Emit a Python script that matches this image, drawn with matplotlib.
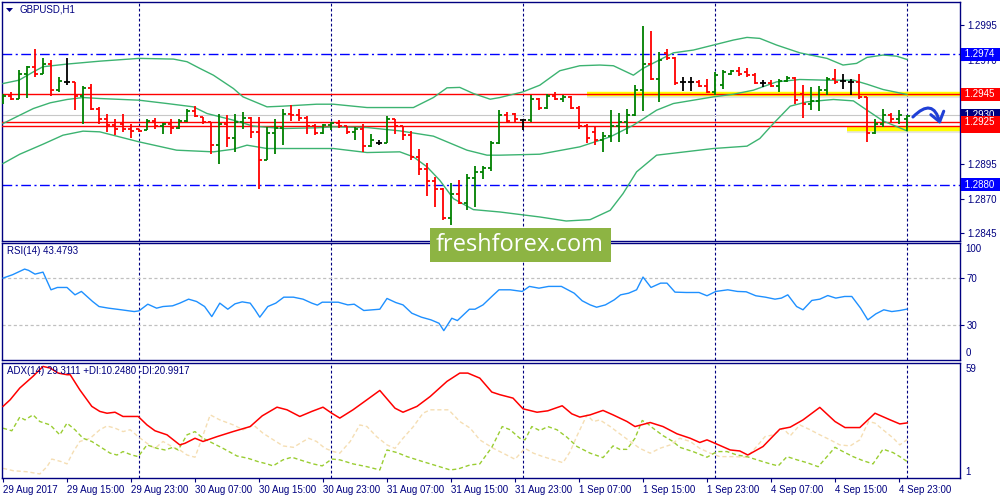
import matplotlib
matplotlib.use('Agg')
import matplotlib.pyplot as plt
from matplotlib.patches import Rectangle, FancyArrowPatch, Polygon
from matplotlib.transforms import blended_transform_factory

plt.rcParams['font.family'] = ['Liberation Sans', 'DejaVu Sans']

W, H = 1000, 500
NAVY = '#000080'

# GBPUSD H1 bars, prices given in pips above 1.2800
BASE = 1.28
opens = [140, 144, 142, 160, 165, 159.7, 167, 148, 154, 154,
         144, 150, 134.4, 127, 123, 124, 120, 120, 119.5, 126,
         122, 124, 121, 126, 133, 128.5, 125, 108.5, 124, 114,
         125, 128, 118, 98, 117, 121, 131, 130, 128, 122,
         117, 123, 124.5, 122, 118, 120, 108, 110, 110.2, 127,
         122, 116, 100, 91, 83, 77, 56, 73, 67, 85,
         89, 92, 110, 130, 131, 126.5, 126.5, 142, 135, 144,
         142, 143.5, 135, 122, 118, 112, 115, 122, 125, 130,
         148, 167, 156.5, 175, 171, 154, 154, 154, 151, 147,
         152, 160, 162, 161, 159, 153, 153, 151, 155, 157,
         145, 138, 140, 148, 156, 155, 154, 154, 143, 117,
         124, 130, 127, 127]
highs = [145, 146.5, 162.5, 165.4, 177.4, 171, 169.8, 157.3, 171, 154.1,
         151, 152.2, 136.1, 131.3, 127.7, 131.3, 123.6, 120.5, 127.5, 128.4,
         124.6, 127, 127.5, 134.2, 136.8, 128.9, 125.3, 131.3, 130.1, 131.3,
         132.5, 128.9, 128.9, 121.7, 127.7, 134.9, 137.3, 134.4, 129.6, 123.6,
         124.1, 125.3, 126.5, 122.2, 121.7, 124.1, 116.4, 112.1, 129.4, 127.2,
         122.5, 118.8, 105.4, 95.7, 85.6, 78, 81.3, 83.2, 87.6, 93.3,
         93.3, 111.4, 133.7, 132.5, 132, 127.7, 144.5, 142.5, 145.7, 146.5,
         144.5, 143.8, 136.6, 124.1, 121.7, 118.1, 133.7, 131.8, 134.9, 151.7,
         194.3, 190.9, 175.8, 177.4, 172.2, 157.3, 157.7, 155.3, 156.1, 161.3,
         162.5, 162.5, 165, 163.8, 160.6, 155.3, 155.3, 156.5, 158.2, 157.3,
         151.7, 150.1, 151, 157.7, 163.3, 160.1, 156.5, 159.7, 143.5, 127.7,
         134.2, 131.8, 133.7, 130.1]
lows = [138.5, 140.9, 142.1, 142.6, 157.3, 159.7, 144.1, 146.5, 151.7, 133.7,
        124.1, 133.7, 123.6, 118.1, 115.7, 118.1, 114, 118.1, 119.3, 120.5,
        116.9, 116.9, 120.5, 125.3, 128.9, 123.6, 102.5, 95.3, 107.3, 103.7,
        120.5, 114, 77.2, 97.7, 102.5, 108.5, 126, 126, 116.9, 115.7,
        116.4, 119.3, 121, 116.9, 112.1, 103.7, 107.3, 108.5, 110.2, 116.9,
        112.1, 97.7, 86.9, 71.7, 64, 54.4, 51.3, 65.9, 62.1, 64,
        84.4, 90, 109.5, 124.6, 125.3, 119.3, 125.3, 133.7, 134.8, 140.9,
        139.7, 134.9, 120.5, 110.4, 108.5, 103.7, 110.9, 110.9, 116.9, 129.5,
        133, 155.3, 139.7, 169.8, 151.7, 147.7, 147.7, 150.5, 146.2, 144.5,
        148.6, 158.9, 158.2, 157.7, 152.9, 150.5, 150.1, 146.9, 154.1, 138,
        128.4, 133.7, 133, 144.5, 152.9, 149.3, 144.5, 141.4, 110.9, 116.5,
        121.7, 124.6, 124.1, 118.8]
closes = [144, 142, 160, 165, 159.7, 167, 148, 155, 154, 144,
          150, 134.4, 127, 123, 120.5, 120, 118.5, 118.5, 126, 122,
          124, 121, 126, 133, 129.6, 125, 108.5, 124, 114, 125,
          128, 118, 98, 117, 121, 131, 130, 128, 122, 117,
          123, 124.5, 122, 118, 120, 108, 112, 110, 127, 122,
          116, 100, 91, 83, 77, 56, 73, 67, 85, 89,
          92, 110, 130, 126, 127, 126.5, 142, 135, 144, 142,
          143.5, 135, 122, 114, 112, 115, 122, 125, 130, 148,
          167, 156.5, 170, 171, 153, 154, 154, 151, 147, 159,
          161, 162, 160, 159, 153, 153, 151, 155, 157, 141,
          138, 140, 148, 156, 154, 155, 154, 143, 117, 124,
          130, 127, 130, 129.8]

# Bollinger bands (bar index, pips above 1.2800)
bb_up_x = [0, 2.0, 3.8, 5.0, 8.0, 12.1, 17.0, 21.3, 23.0, 24.6, 26.3, 28.8, 30.0, 33.0, 35.0, 39.2,
           41.3, 45.5, 51.3, 53.8, 55.5, 57.1, 58.8, 60.9, 62.1, 65.0, 67.1, 69.6, 72.1, 74.6, 76.3,
           78.8, 80.0, 83.8, 86.3, 88.8, 91.3, 93.0, 94.6, 96.7, 99.6, 103.0, 105.0, 106.7, 108.0,
           110.0, 111.7, 113.0]
bb_up = [152.9, 155.3, 161.3, 165.0, 166.9, 169.0, 171.0, 170.5, 168.6, 163.8, 158.9, 149.3, 143.3,
         136.1, 136.6, 138.0, 138.0, 135.6, 135.6, 142.8, 149.8, 150.1, 145.7, 141.6, 142.8, 146.9,
         151.7, 162.1, 165.7, 166.2, 165.7, 158.9, 163.8, 175.0, 177.0, 180.6, 184.2, 186.1, 185.4,
         180.6, 175.0, 171.0, 166.2, 167.4, 171.7, 173.4, 172.6, 170.2]
bb_mid_x = [0, 2.1, 3.8, 5.9, 8.0, 10.0, 12.1, 17.0, 20.5, 23.8, 25.5, 28.8, 31.3, 35.0, 39.2, 41.3,
            45.5, 49.6, 53.8, 58.0, 60.5, 62.1, 67.1, 72.1, 75.9, 78.8, 81.7, 83.8, 88.8, 91.3, 93.8,
            96.7, 99.6, 103.0, 106.3, 108.0, 110.0, 113.0]
bb_mid = [124.1, 130.1, 134.9, 139.0, 141.4, 142.8, 142.1, 140.9, 138.5, 136.1, 131.3, 126.5, 122.2,
          120.5, 121.0, 121.7, 121.2, 118.8, 115.0, 104.9, 101.3, 101.3, 102.0, 107.3, 114.5, 122.9,
          133.7, 138.5, 143.3, 145.2, 148.1, 154.1, 155.8, 155.3, 155.3, 152.4, 148.6, 145.0]
bb_low_x = [0, 2.1, 5.0, 7.5, 10.0, 12.1, 17.0, 21.7, 26.3, 28.8, 30.5, 33.0, 37.1, 41.3, 45.5, 49.6,
            51.3, 53.0, 54.6, 56.3, 58.8, 62.1, 67.1, 70.4, 73.4, 75.9, 77.5, 79.2, 81.7, 88.8, 93.0,
            94.6, 96.3, 98.4, 100.5, 103.8, 106.3, 108.0, 110.0, 113.0]
bb_low = [95.3, 102.0, 109.2, 115.7, 118.6, 118.1, 110.9, 104.9, 103.7, 105.6, 108.5, 106.1, 106.1,
          106.1, 103.2, 103.7, 100.1, 92.9, 83.2, 70.0, 62.1, 60.4, 56.8, 53.9, 54.9, 61.6, 73.6,
          89.3, 101.3, 106.1, 107.8, 113.3, 124.1, 136.6, 139.7, 141.4, 140.4, 133.7, 126.0, 118.8]

# RSI(14)
rsi_x = [0.0, 1.2, 2.7, 3.2, 4.0, 5.0, 6.0, 6.8, 8.0, 9.0, 9.8, 11.2, 12.0, 13.2, 14.8, 16.4, 17.0,
         18.1, 19.2, 20.0, 21.2, 22.1, 23.2, 24.2, 25.2, 26.1, 27.1, 28.1, 29.0, 29.9, 30.9, 31.5,
         32.1, 33.1, 34.1, 35.1, 36.3, 37.5, 38.6, 39.3, 39.9, 41.9, 43.1, 43.9, 45.1, 47.1, 48.0,
         49.1, 50.0, 51.1, 52.3, 53.5, 54.5, 55.1, 56.1, 56.8, 58.3, 59.0, 60.0, 61.1, 62.0, 63.4,
         64.9, 65.8, 67.0, 68.2, 69.8, 71.4, 72.4, 73.4, 74.2, 75.3, 76.4, 77.2, 78.2, 79.2, 80.0,
         81.0, 82.2, 83.0, 84.0, 85.4, 87.0, 88.0, 89.1, 90.6, 91.8, 92.9, 94.1, 95.3, 96.5, 97.3,
         98.1, 99.2, 100.0, 101.1, 102.1, 103.1, 104.1, 105.2, 106.1, 107.2, 108.1, 109.1, 110.1,
         111.1, 112.1, 113.0]
rsi = [70.0, 72.9, 77.7, 76.6, 73.4, 75.1, 60.0, 62.0, 62.0, 55.7, 58.6, 50.0, 45.7, 44.3, 42.9, 41.4,
       42.0, 47.7, 44.3, 45.7, 46.3, 48.6, 52.0, 50.0, 45.7, 37.1, 48.6, 43.4, 48.0, 49.7, 48.6, 42.9,
       36.6, 45.7, 48.6, 53.7, 53.7, 52.0, 48.6, 46.9, 49.4, 49.4, 47.1, 47.7, 42.3, 43.4, 52.6, 49.1,
       47.1, 40.0, 36.6, 34.3, 31.4, 25.1, 35.7, 33.7, 43.4, 43.4, 47.1, 54.3, 60.0, 60.0, 58.6, 62.9,
       61.4, 62.9, 62.9, 57.1, 50.6, 47.1, 45.1, 47.1, 51.4, 55.7, 57.1, 60.0, 70.9, 62.0, 65.7, 65.7,
       58.0, 57.7, 57.7, 54.9, 58.6, 60.0, 58.6, 58.3, 54.9, 53.7, 52.0, 52.9, 55.7, 45.7, 42.9, 50.9,
       52.0, 55.1, 52.9, 54.3, 54.3, 44.3, 34.3, 39.4, 42.9, 41.4, 42.3, 43.5]

# ADX(14) with +DI / -DI
adx_x = [0, 0.9, 2.1, 3.75, 5.0, 5.9, 6.9, 8.0, 8.4, 9.6, 11.1, 12.1, 13.0, 14.0, 15.0, 16.9, 18.0,
         19.0, 20.5, 22.1, 22.75, 24.0, 25.0, 26.75, 28.75, 30.9, 32.4, 34.25, 35.5, 37.1, 38.6, 40.0,
         41.1, 42.1, 43.75, 45.5, 47.1, 49.0, 50.0, 51.75, 53.4, 55.5, 57.1, 58.1, 59.6, 61.1, 62.1,
         63.75, 65.0, 66.75, 68.1, 69.9, 71.1, 72.1, 73.4, 75.0, 76.25, 78.0, 79.0, 80.9, 82.5, 84.25,
         85.9, 87.1, 88.0, 89.0, 90.9, 92.1, 93.1, 95.0, 97.1, 98.4, 100.0, 102.1, 104.0, 105.25,
         107.1, 109.0, 110.9, 112.1, 113.0]
adx = [37.5, 40.8, 46.6, 52.4, 57.3, 56.5, 54.0, 53.2, 53.2, 45.7, 37.5, 35.0, 34.1, 34.6, 32.5, 32.5,
       28.3, 25.4, 23.4, 18.4, 19.2, 21.7, 20.1, 22.5, 25.0, 27.5, 32.8, 37.1, 35.8, 32.5, 35.0, 37.1,
       34.1, 31.7, 35.8, 40.8, 45.4, 36.6, 34.6, 37.5, 42.4, 49.9, 54.0, 54.0, 51.5, 44.6, 43.3, 41.6,
       36.3, 34.6, 35.3, 37.8, 33.8, 32.2, 33.3, 35.5, 33.3, 30.0, 27.5, 29.5, 27.5, 23.9, 21.7, 19.6,
       20.9, 19.2, 15.9, 15.4, 13.4, 17.6, 26.2, 27.2, 30.8, 37.0, 30.0, 27.0, 27.0, 34.1, 30.8, 28.8,
       29.3]
pdi_x = [0, 1.1, 2.1, 2.75, 3.75, 4.6, 5.9, 7.1, 8.0, 9.0, 10.0, 11.1, 12.1, 13.4, 14.25, 15.0, 16.1,
         16.9, 18.0, 19.25, 20.25, 21.25, 21.9, 23.0, 24.0, 25.0, 26.25, 27.5, 29.25, 30.6, 31.9, 33.0,
         33.75, 35.0, 36.1, 37.1, 38.75, 39.9, 41.1, 42.1, 43.75, 45.5, 47.1, 48.0, 49.25, 50.5, 52.5,
         54.25, 55.9, 56.9, 58.4, 59.6, 61.1, 62.4, 63.4, 64.6, 65.25, 66.1, 67.1, 68.1, 69.25, 70.5,
         71.75, 73.4, 75.0, 76.25, 77.1, 78.0, 79.0, 79.9, 80.5, 81.25, 82.5, 83.75, 84.6, 86.25, 88.0,
         89.25, 90.5, 91.75, 93.0, 94.25, 95.9, 96.9, 98.0, 99.25, 100.5, 101.9, 103.0, 104.0, 105.0,
         106.25, 107.5, 108.75, 110.0, 111.25, 112.1, 113.0]
pdi = [26.7, 25.4, 32.2, 30.8, 33.3, 30.0, 28.3, 23.4, 29.2, 25.9, 21.7, 20.1, 17.6, 14.3, 13.4, 15.1,
       13.4, 12.6, 18.4, 16.7, 15.9, 17.2, 15.9, 23.4, 25.0, 21.7, 19.2, 16.7, 12.9, 11.8, 10.1, 9.0,
       8.0, 11.0, 12.3, 11.0, 9.0, 8.0, 11.4, 11.0, 9.0, 7.6, 6.0, 15.9, 14.6, 12.6, 10.1, 8.0, 6.0,
       6.5, 8.5, 9.0, 17.2, 27.5, 25.9, 21.7, 20.9, 27.5, 25.5, 27.5, 25.9, 22.2, 17.6, 14.3, 12.1,
       17.9, 16.2, 16.2, 21.7, 30.5, 29.2, 26.7, 23.0, 20.1, 17.2, 15.1, 12.3, 15.1, 15.1, 13.4, 12.6,
       11.0, 9.0, 8.0, 12.6, 11.0, 9.6, 7.6, 12.6, 17.2, 15.1, 12.6, 10.6, 9.0, 16.3, 14.6, 12.6, 10.2]
mdi_x = [0, 1.3, 3.0, 4.6, 5.5, 6.1, 7.3, 8.0, 8.8, 9.6, 10.9, 12.1, 13.0, 14.0, 15.0, 15.9, 16.9,
         18.0, 19.0, 20.0, 21.3, 22.1, 23.0, 24.0, 24.8, 25.9, 27.1, 28.8, 30.0, 31.3, 32.5, 33.8,
         35.0, 36.3, 37.3, 38.2, 39.2, 40.25, 41.3, 42.1, 43.4, 44.6, 45.5, 46.7, 48.0, 49.0, 50.0,
         51.3, 52.5, 53.4, 54.6, 55.7, 57.1, 58.4, 59.6, 61.3, 62.5, 64.0, 65.25, 66.3, 67.5, 68.8,
         70.0, 70.9, 71.7, 73.0, 73.8, 74.6, 75.9, 77.1, 78.4, 79.6, 80.9, 82.1, 83.4, 84.6, 85.9,
         87.1, 88.4, 89.6, 91.3, 93.0, 94.2, 95.25, 96.3, 97.5, 98.4, 99.6, 100.9, 102.1, 103.4,
         104.6, 105.9, 107.1, 108.2, 109.0, 110.0, 111.3, 112.1, 113.0]
mdi = [6.8, 5.6, 5.1, 4.0, 7.6, 11.4, 10.1, 9.0, 15.1, 20.1, 21.7, 25.9, 27.8, 26.7, 25.0, 25.9, 22.5,
       19.2, 16.7, 20.1, 17.2, 15.9, 13.4, 12.3, 20.9, 33.3, 30.8, 28.3, 25.9, 28.3, 24.2, 20.9, 17.9,
       17.2, 19.6, 21.7, 20.1, 16.7, 15.1, 14.3, 20.1, 28.3, 27.5, 22.5, 18.4, 16.7, 21.7, 27.5, 34.1,
       35.8, 35.8, 35.8, 30.0, 26.7, 20.9, 16.7, 14.3, 11.3, 16.7, 14.3, 12.6, 11.0, 9.6, 15.1, 22.5,
       33.3, 30.0, 30.8, 27.5, 23.9, 20.1, 16.7, 14.3, 16.7, 18.4, 21.7, 20.1, 16.7, 14.3, 12.6, 12.6,
       12.3, 17.6, 22.5, 23.4, 26.7, 22.9, 28.3, 25.9, 23.4, 20.9, 18.4, 17.9, 20.9, 30.0, 29.2, 25.9,
       21.7, 18.4, 21.0]

# time axis
x_label_bars = [0, 8, 16, 24, 32, 40, 48, 56, 64, 72, 80, 88, 96, 104, 112]
x_labels = ['29 Aug 2017', '29 Aug 15:00', '29 Aug 23:00', '30 Aug 07:00', '30 Aug 15:00',
            '30 Aug 23:00', '31 Aug 07:00', '31 Aug 15:00', '31 Aug 23:00', '1 Sep 07:00',
            '1 Sep 15:00', '1 Sep 23:00', '4 Sep 07:00', '4 Sep 15:00', '4 Sep 23:00']
day_bars = [17, 41, 65, 89, 113]

# horizontal levels
red_levels = [1.2945, 1.2925, 1.2922]
blue_levels = [1.2974, 1.2880]
bid_price = 1.2930
yellow_levels = [(1.29452, 73), (1.29203, 105.5)]
price_ticks = [1.2995, 1.2970, 1.2945, 1.2920, 1.2895, 1.2870, 1.2845]
covered_ticks = [1.2945, 1.2920]  # hidden behind the price boxes in the terminal

op = [BASE + v / 1e4 for v in opens]
hi = [BASE + v / 1e4 for v in highs]
lo = [BASE + v / 1e4 for v in lows]
cl = [BASE + v / 1e4 for v in closes]


def px_rect(x0, y0, x1, y1):
    return [x0 / W, 1 - y1 / H, (x1 - x0) / W, (y1 - y0) / H]


fig = plt.figure(figsize=(10, 5), dpi=100)
ax = fig.add_axes(px_rect(2, 2, 960, 241))
ax_rsi = fig.add_axes(px_rect(2, 243, 960, 360))
ax_adx = fig.add_axes(px_rect(2, 363, 960, 478))

XMIN, XMAX = -0.125, 119.625
for a in (ax, ax_rsi, ax_adx):
    a.set_xlim(XMIN, XMAX)
    for s in a.spines.values():
        s.set_color(NAVY)
        s.set_linewidth(1)
    for b in day_bars:
        a.axvline(b, color=NAVY, lw=0.8, ls=(0, (2.5, 2.0)), zorder=1)
    a.tick_params(axis='x', bottom=False, labelbottom=False)
    a.tick_params(axis='y', left=False, labelleft=False, right=True, labelright=True,
                  direction='out', length=3, color=NAVY, labelcolor=NAVY, labelsize=7, pad=2)

# ---- price panel
ax.set_ylim(1.28395, 1.30116)
ax.set_yticks(price_ticks)
ax.set_yticklabels(['' if p in covered_ticks else f'{p:.4f}' for p in price_ticks])

for lv in blue_levels:
    ax.axhline(lv, color='#0000ff', lw=1, ls=(0, (7, 2.5, 1.5, 2.5)), zorder=1)
ax.axhline(bid_price, color='#c8c8c8', lw=0.8, zorder=1)

for lv, start in yellow_levels:
    ax.plot([start, XMAX], [lv - 0.00016, lv - 0.00016], color='#999999', lw=3, alpha=0.25,
            solid_capstyle='butt', zorder=2)
    ax.plot([start, XMAX], [lv, lv], color='#ffff00', lw=3.2, solid_capstyle='butt', zorder=2)

for lv in red_levels:
    ax.axhline(lv, color='#ff0000', lw=1, zorder=3)

ax.plot(bb_up_x, [BASE + v / 1e4 for v in bb_up], color='#3cb371', lw=1, zorder=4)
ax.plot(bb_mid_x, [BASE + v / 1e4 for v in bb_mid], color='#3cb371', lw=1, zorder=4)
ax.plot(bb_low_x, [BASE + v / 1e4 for v in bb_low], color='#3cb371', lw=1, zorder=4)

xs = list(range(len(op)))
cols = ['#008000' if c > o else '#ff0000' if c < o else 'black' for o, c in zip(op, cl)]
ax.vlines(xs, lo, hi, colors=cols, lw=1.3, zorder=5)
ax.hlines(op, [x - 0.42 for x in xs], xs, colors=cols, lw=1.3, zorder=5)
ax.hlines(cl, xs, [x + 0.42 for x in xs], colors=cols, lw=1.3, zorder=5)

# price boxes on the right scale
tr = blended_transform_factory(ax.transAxes, ax.transData)
boxes = [(1.2974, '#0000ff'), (1.2945, '#ff0000'), (1.2930, NAVY), (1.2922, '#ff0000'),
         (1.2925, '#ff0000'), (1.2880, '#0000ff')]
for p, c in boxes:
    ax.text(1.0025, p, f' {p:.4f}  ', transform=tr, ha='left', va='center', fontsize=7,
            color='white', zorder=20,
            bbox=dict(boxstyle='square,pad=0.15', fc=c, ec='none'))

ax.text(18 / 958, 1 - 8 / 239, 'GBPUSD,H1', transform=ax.transAxes, ha='left', va='center',
        fontsize=7, color=NAVY)
fig.add_artist(Polygon([[6 / W, 1 - 8 / H], [13 / W, 1 - 8 / H], [9.5 / W, 1 - 12 / H]],
                       closed=True, transform=fig.transFigure, fc=NAVY, ec='none'))

# ---- RSI panel
ax_rsi.set_ylim(0, 100)
ax_rsi.set_yticks([70, 30])
ax_rsi.set_yticklabels(['70', '30'])
for lv in (70, 30):
    ax_rsi.axhline(lv, color='#c0c0c0', lw=0.9, ls=(0, (2.5, 2)), zorder=1)
ax_rsi.plot(rsi_x, rsi, color='#1e90ff', lw=1, zorder=3)
trr = blended_transform_factory(ax_rsi.transAxes, ax_rsi.transData)
ax_rsi.text(1.006, 99, '100', transform=trr, ha='left', va='top', fontsize=7, color=NAVY)
ax_rsi.text(1.006, 2, '0', transform=trr, ha='left', va='bottom', fontsize=7, color=NAVY)
ax_rsi.text(5 / 958, 1 - 8 / 117, 'RSI(14) 43.4793', transform=ax_rsi.transAxes, ha='left',
            va='center', fontsize=7, color=NAVY)

# ---- ADX panel
ax_adx.set_ylim(2, 59)
ax_adx.set_yticks([])
ax_adx.plot(mdi_x, mdi, color='#f5deb3', lw=1, ls=(0, (3, 2)), zorder=2)
ax_adx.plot(pdi_x, pdi, color='#9acd32', lw=1, ls=(0, (3, 2)), zorder=2)
ax_adx.plot(adx_x, adx, color='#ff0000', lw=1.1, zorder=3)
tra = blended_transform_factory(ax_adx.transAxes, ax_adx.transData)
ax_adx.text(1.006, 58.5, '59', transform=tra, ha='left', va='top', fontsize=7, color=NAVY)
ax_adx.text(1.006, 2.5, '1', transform=tra, ha='left', va='bottom', fontsize=7, color=NAVY)
ax_adx.text(5 / 958, 1 - 8 / 115, 'ADX(14) 29.3111 +DI:10.2480 -DI:20.9917',
            transform=ax_adx.transAxes, ha='left', va='center', fontsize=7, color=NAVY)
ax_adx.set_xticks(x_label_bars)
ax_adx.set_xticklabels(x_labels, ha='left')
ax_adx.tick_params(axis='x', bottom=True, labelbottom=True, direction='out', length=3,
                   color=NAVY, labelcolor=NAVY, labelsize=7, pad=2)

# ---- watermark and hand-drawn arrow
fig.add_artist(Rectangle((430 / W, 1 - 262 / H), 181 / W, 34 / H, transform=fig.transFigure,
                         fc='#8db443', ec='none', zorder=10))
fig.text(520 / W, 1 - 245 / H, 'freshforex.com', color='white', fontsize=17, ha='center',
         va='center', family='Open Sans', zorder=11)

fig.add_artist(FancyArrowPatch((911 / W, 1 - 119 / H), (941 / W, 1 - 127 / H),
                               transform=fig.transFigure, connectionstyle='arc3,rad=-0.95',
                               arrowstyle='->,head_length=0.55,head_width=0.4',
                               mutation_scale=12, color='#1f3fd6', lw=2.2, zorder=12))

fig.savefig('out.png', dpi=100)
